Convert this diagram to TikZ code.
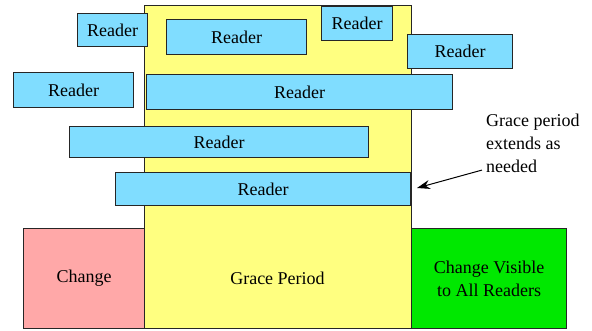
\documentclass[tikz,border=0pt]{standalone}
\usepackage{fontspec}
\setmainfont{Liberation Serif}
\usepackage{tikz}
\usetikzlibrary{positioning,arrows.meta}
\definecolor{readerblue}{RGB}{128,221,255}
\definecolor{graceyellow}{RGB}{255,255,128}
\definecolor{changepink}{RGB}{255,168,168}
\definecolor{visiblegreen}{RGB}{0,232,0}

\begin{document}
\begin{tikzpicture}[x=1pt, y=-1pt,
	box/.style={draw=black!85, line width=1.1pt, inner sep=0pt, anchor=north west},
	reader/.style={box, fill=readerblue},
	txt/.style={font=\fontsize{18}{23}\selectfont}]
	\useasboundingbox (0,0) rectangle (592,330);
	% Define nodes
	\node[box, fill=graceyellow, minimum width=267pt, minimum height=323pt] (grace) at (144,5) {};
	\node[box, fill=changepink, minimum width=121pt, minimum height=100pt, txt] (change) at (23,228) {Change};
	\node[box, fill=visiblegreen, minimum width=155pt, minimum height=100pt, txt, align=center] (visible) at (411,228) {Change Visible\\to All Readers};
	\node[txt] (gracetext) at (277.5,278) {Grace Period};
	\node[reader, txt, minimum width=70pt,  minimum height=33pt] (r1) at (77,13)  {Reader};
	\node[reader, txt, minimum width=140pt, minimum height=35pt] (r2) at (166,19) {Reader};
	\node[reader, txt, minimum width=71pt,  minimum height=34pt] (r3) at (321,6)  {Reader};
	\node[reader, txt, minimum width=105pt, minimum height=34pt] (r4) at (407,34) {Reader};
	\node[reader, txt, minimum width=120pt, minimum height=35pt] (r5) at (13,72)  {Reader};
	\node[reader, txt, minimum width=306pt, minimum height=35pt] (r6) at (146,74) {Reader};
	\node[reader, txt, minimum width=299pt, minimum height=31pt] (r7) at (69,126) {Reader};
	\node[reader, txt, minimum width=295pt, minimum height=33pt] (r8) at (115,172) {Reader};
	\node[txt, align=left, inner sep=0pt, anchor=north west] (note) at (486,114) {Grace period\\extends as\\needed};
	\coordinate (tip) at (417,188);
	% Connect the nodes
	\draw[line width=1pt, -{Stealth[length=13pt,width=9pt]}] ([xshift=-4pt,yshift=3pt]note.south west) -- (tip);
\end{tikzpicture}
\end{document}
